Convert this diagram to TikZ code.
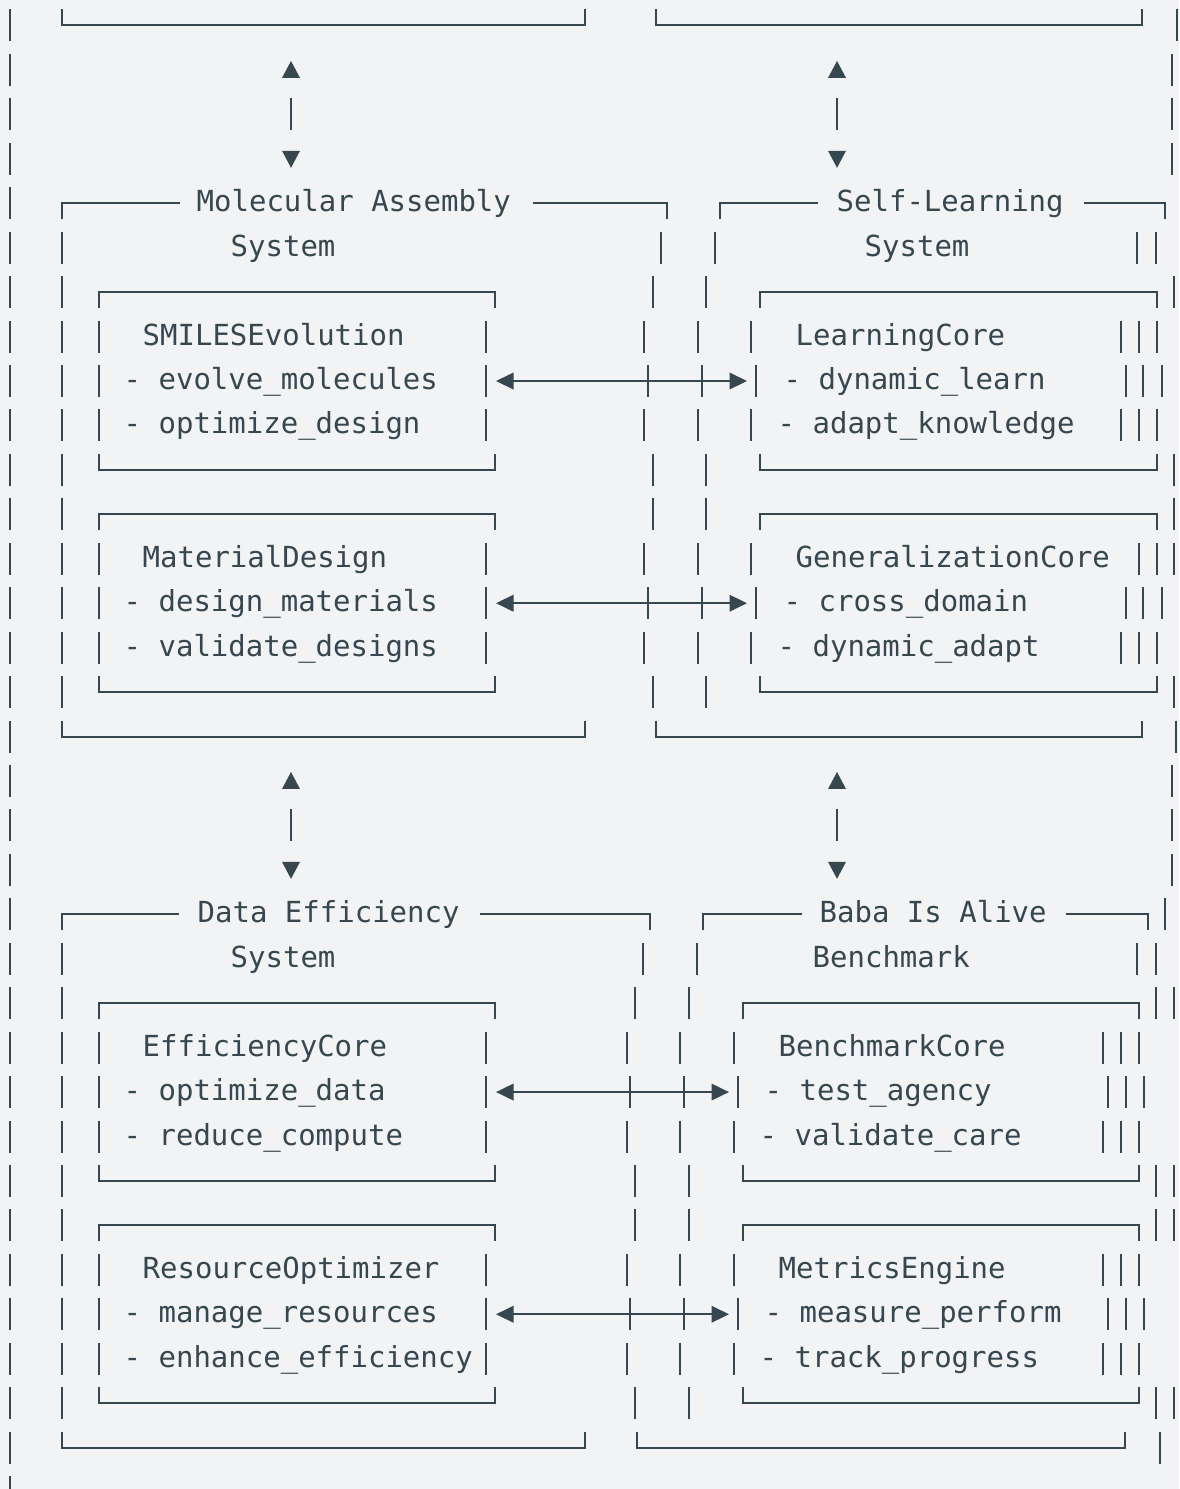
\documentclass[tikz,border=0pt]{standalone}
\usepackage{fontspec}
\setmonofont{DejaVu Sans Mono}
\usepackage{xcolor}
\usetikzlibrary{arrows.meta}
\definecolor{asciiink}{RGB}{55,71,79}
\definecolor{asciibg}{RGB}{241,243,245}

\newcommand{\asciifont}{\ttfamily\fontsize{8.25pt}{10pt}\selectfont}
% bars of one text row
\newcommand{\rowbars}[2]{\foreach \bx in {#2} \draw[bar] (\bx,{ry(#1)-16}) -- (\bx,{ry(#1)+16});}
% top and bottom edges of a box (row, left, right)
\newcommand{\boxtop}[3]{\draw[bar] (#2,{ry(#1)+16}) |- (#3,{ry(#1)}) -- (#3,{ry(#1)+16});}
\newcommand{\boxbot}[3]{\draw[bar] (#2,{ry(#1)-16}) |- (#3,{ry(#1)}) -- (#3,{ry(#1)-16});}
% top edge broken by a title (row, left, gap start, gap end, right)
\newcommand{\titletop}[5]{\draw[bar] (#2,{ry(#1)+16}) |- (#3,{ry(#1)});
  \draw[bar] (#4,{ry(#1)}) -| (#5,{ry(#1)+16});}
% up/down link between systems (x, first row)
\newcommand{\vlink}[2]{\fill[asciiink] (#1-9,{ry(#2)+8}) -- (#1+9,{ry(#2)+8}) -- (#1,{ry(#2)-9}) -- cycle;
  \draw[bar] (#1,{ry(#2+1)-16}) -- (#1,{ry(#2+1)+16});
  \fill[asciiink] (#1-9,{ry(#2+2)-8}) -- (#1+9,{ry(#2+2)-8}) -- (#1,{ry(#2+2)+9}) -- cycle;}

\begin{document}
\begin{tikzpicture}[
    x=0.1mm, y=-0.1mm,
    declare function={ry(\n)=25.5+44.44*\n;},
    bar/.style={draw=asciiink, line width=0.2mm},
    txt/.style={anchor=base west, inner sep=0pt, font=\asciifont, text=asciiink},
    link/.style={bar, {Triangle[length=1.75mm,width=1.65mm]}-{Triangle[length=1.75mm,width=1.65mm]}}
  ]
    \fill[asciibg] (0,0) rectangle (1179,1489);
    \useasboundingbox (0,0) rectangle (1179,1489);

    % Row bars
    \rowbars{0}{10,1177}
    \foreach \rw in {1,2,3,17,18,19} {\rowbars{\rw}{10,1172}}
    \rowbars{4}{10}
    \rowbars{5}{10,62,661,715,1137,1156}
    \foreach \rw in {6,10,11,15} {\rowbars{\rw}{10,62,653,706,1174}}
    \foreach \rw in {7,9,14} {\rowbars{\rw}{10,62,99,486,644,698,751,1121,1139,1157}}
    \foreach \rw in {8,13} {\rowbars{\rw}{10,62,99,486,648,702,756,1126,1143,1162}}
    \rowbars{12}{10,62,99,486,644,698,751,1139,1157,1174}
    \rowbars{16}{10,1176}
    \rowbars{20}{10,1165}
    \rowbars{21}{10,62,643,697,1137,1156}
    \foreach \rw in {22,26,27,31} {\rowbars{\rw}{10,62,635,689,1156,1174}}
    \foreach \rw in {23,25,28,30} {\rowbars{\rw}{10,62,99,486,627,680,734,1103,1121,1139}}
    \foreach \rw in {24,29} {\rowbars{\rw}{10,62,99,486,630,684,738,1108,1126,1144}}
    \rowbars{32}{10,1160}
    \draw[bar] (10,1476) -- (10,1489);

    % Box edges
    \boxbot{0}{62}{585} \boxbot{0}{656}{1142}
    \titletop{4}{62}{180}{533}{667} \titletop{4}{720}{818}{1084}{1165}
    \foreach \rw in {6,11} {\boxtop{\rw}{99}{495} \boxtop{\rw}{760}{1157}}
    \foreach \rw in {10,15} {\boxbot{\rw}{99}{495} \boxbot{\rw}{760}{1157}}
    \boxbot{16}{62}{585} \boxbot{16}{656}{1142}
    \titletop{20}{62}{179}{480}{650} \titletop{20}{703}{802}{1066}{1148}
    \foreach \rw in {22,27} {\boxtop{\rw}{99}{495} \boxtop{\rw}{743}{1139}}
    \foreach \rw in {26,31} {\boxbot{\rw}{99}{495} \boxbot{\rw}{743}{1139}}
    \boxbot{32}{62}{585} \boxbot{32}{637}{1125}

    % Links between systems
    \vlink{291}{1} \vlink{837}{1}
    \vlink{291}{17} \vlink{837}{17}

    % Nodes
    \node[txt] (molTitle) at (196,{ry(4)+8.5}) {Molecular Assembly};
    \node[txt] (molSys) at (230,{ry(5)+8.5}) {System};
    \node[txt] (selfTitle) at (836,{ry(4)+8.5}) {Self-Learning};
    \node[txt] (selfSys) at (864,{ry(5)+8.5}) {System};

    \node[txt] (smiles) at (142,{ry(7)+8.5}) {SMILESEvolution};
    \node[txt] (smilesA) at (123,{ry(8)+8.5}) {- evolve\_molecules};
    \node[txt] (smilesB) at (123,{ry(9)+8.5}) {- optimize\_design};
    \node[txt] (material) at (142,{ry(12)+8.5}) {MaterialDesign};
    \node[txt] (materialA) at (123,{ry(13)+8.5}) {- design\_materials};
    \node[txt] (materialB) at (123,{ry(14)+8.5}) {- validate\_designs};

    \node[txt] (learning) at (795,{ry(7)+8.5}) {LearningCore};
    \node[txt] (learningA) at (783,{ry(8)+8.5}) {- dynamic\_learn};
    \node[txt] (learningB) at (777,{ry(9)+8.5}) {- adapt\_knowledge};
    \node[txt] (general) at (795,{ry(12)+8.5}) {GeneralizationCore};
    \node[txt] (generalA) at (783,{ry(13)+8.5}) {- cross\_domain};
    \node[txt] (generalB) at (777,{ry(14)+8.5}) {- dynamic\_adapt};

    \node[txt] (dataTitle) at (197,{ry(20)+8.5}) {Data Efficiency};
    \node[txt] (dataSys) at (230,{ry(21)+8.5}) {System};
    \node[txt] (babaTitle) at (819,{ry(20)+8.5}) {Baba Is Alive};
    \node[txt] (babaSys) at (812,{ry(21)+8.5}) {Benchmark};

    \node[txt] (effcore) at (142,{ry(23)+8.5}) {EfficiencyCore};
    \node[txt] (effcoreA) at (123,{ry(24)+8.5}) {- optimize\_data};
    \node[txt] (effcoreB) at (123,{ry(25)+8.5}) {- reduce\_compute};
    \node[txt] (resopt) at (142,{ry(28)+8.5}) {ResourceOptimizer};
    \node[txt] (resoptA) at (123,{ry(29)+8.5}) {- manage\_resources};
    \node[txt] (resoptB) at (123,{ry(30)+8.5}) {- enhance\_efficiency};

    \node[txt] (bench) at (778,{ry(23)+8.5}) {BenchmarkCore};
    \node[txt] (benchA) at (764,{ry(24)+8.5}) {- test\_agency};
    \node[txt] (benchB) at (759,{ry(25)+8.5}) {- validate\_care};
    \node[txt] (metrics) at (778,{ry(28)+8.5}) {MetricsEngine};
    \node[txt] (metricsA) at (764,{ry(29)+8.5}) {- measure\_perform};
    \node[txt] (metricsB) at (759,{ry(30)+8.5}) {- track\_progress};

    % Arrows
    \coordinate (smilesR) at (496,{ry(8)});   \coordinate (learningL) at (747,{ry(8)});
    \coordinate (materialR) at (496,{ry(13)}); \coordinate (generalL) at (747,{ry(13)});
    \coordinate (effcoreR) at (496,{ry(24)});  \coordinate (benchL) at (729,{ry(24)});
    \coordinate (resoptR) at (496,{ry(29)});   \coordinate (metricsL) at (729,{ry(29)});
    \draw[link] (smilesR) -- (learningL);
    \draw[link] (materialR) -- (generalL);
    \draw[link] (effcoreR) -- (benchL);
    \draw[link] (resoptR) -- (metricsL);
\end{tikzpicture}
\end{document}
